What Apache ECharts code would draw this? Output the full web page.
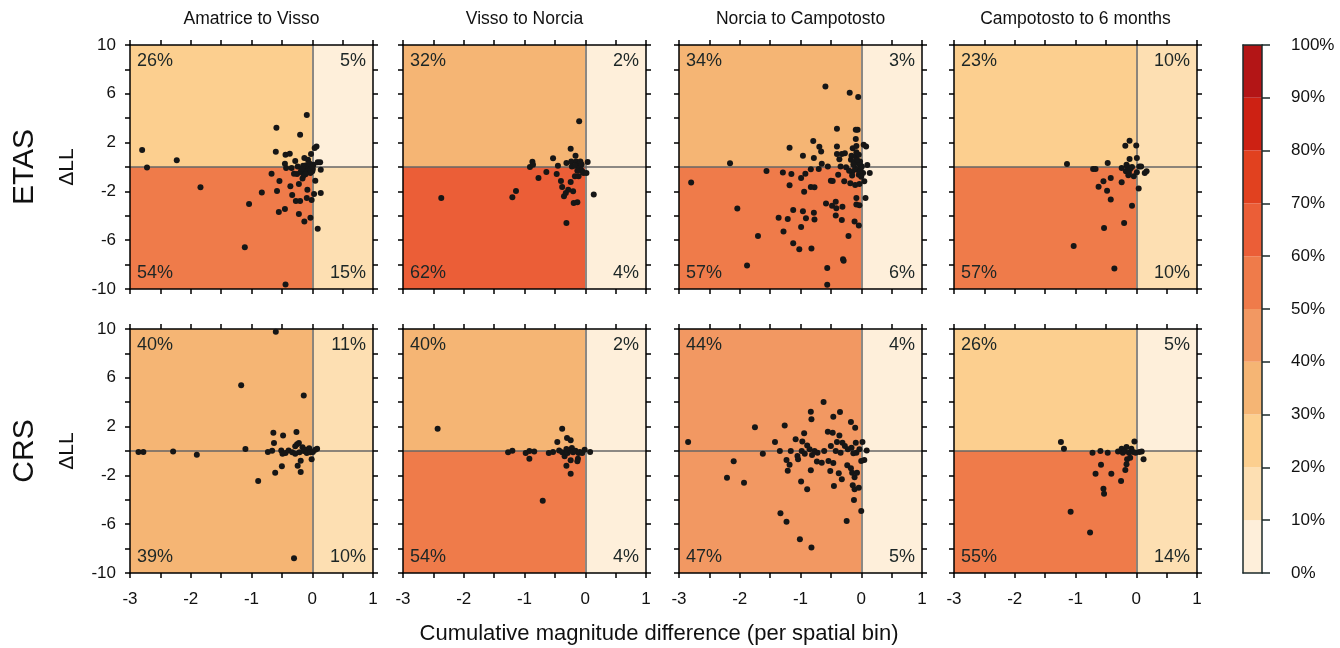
<!DOCTYPE html>
<html>
<head>
<meta charset="utf-8">
<script src="https://cdn.jsdelivr.net/npm/echarts@6/dist/echarts.min.js"></script>
<style>
html, body { margin: 0; padding: 0; background: #fff; }
#main { width: 1340px; height: 648px; }
</style>
</head>
<body>
<div id="main"></div>
<script>
var periods = ['Amatrice to Visso', 'Visso to Norcia', 'Norcia to Campotosto', 'Campotosto to 6 months'];
var models = ['ETAS', 'CRS'];
var xLimits = [-3, 1];
var yLimits = [-10, 10];
var binEdges = [0, 10, 20, 30, 40, 50, 60, 70, 80, 90, 100];
var binColors = ['#feefda', '#fddfb2', '#fccf8f', '#f5b574', '#f29862', '#ef7b4a', '#eb5e37', '#e1411f', '#cd2113', '#b31516'];

// share of bins in each quadrant (%): upper-left, upper-right, lower-left, lower-right
var etasShares = [[26, 5, 54, 15], [32, 2, 62, 4], [34, 3, 57, 6], [23, 10.2, 57, 10.4]];
var crsShares = [[39.6, 10.8, 39, 10.4], [39.7, 2, 54, 4], [44, 4, 47, 5], [26, 5, 55, 14]];

// [cumulative magnitude difference, delta LL] per spatial bin
var etasAmVi = [[-2.80,1.39],[-2.72,-0.05],[-2.23,0.55],[-1.84,-1.66],[-1.11,-6.58],[-1.04,-3.03],[-0.83,-2.10],[-0.67,-0.55],[-0.60,1.26],[-0.59,3.22],[-0.54,-1.15],[-0.58,-1.96],[-0.55,-3.68],[-0.45,-3.44],[-0.45,0.27],[-0.44,1.0],[-0.37,1.09],[-0.43,-0.08],[-0.36,-1.58],[-0.33,-2.29],[-0.34,-0.08],[-0.28,0.49],[-0.27,-2.78],[-0.25,-0.57],[-0.24,0.05],[-0.22,-1.39],[-0.20,2.65],[-0.20,-2.78],[-0.22,-3.85],[-0.19,-0.41],[-0.16,-0.95],[-0.14,-0.68],[-0.13,-4.47],[-0.13,0.74],[-0.09,4.26],[-0.08,-1.86],[-0.09,-2.54],[-0.07,0.60],[-0.07,-0.22],[-0.04,0.05],[-0.03,-4.17],[-0.02,1.06],[-0.01,-2.70],[0,-0.35],[0.01,-0.16],[0.02,0.19],[0.03,-2.21],[0.04,1.56],[0.05,-1.12],[0.07,1.69],[0.09,0.38],[0.09,-5.07],[0.13,0.38],[0.14,-2.13],[0.14,-0.22],[-0.44,-9.63],[-0.12,-0.3],[-0.06,-0.1],[-0.1,0.15],[-0.03,-0.5],[-0.15,0.1],[-0.05,0.3],[-0.18,-0.15],[0.0,0.05],[-0.3,-0.55],[-0.11,-0.6]];
var etasViNo = [[-2.37,-2.54],[-1.20,-2.48],[-1.14,-1.96],[-0.91,0],[-0.87,0.44],[-0.86,0.19],[-0.77,-0.90],[-0.64,-0.41],[-0.53,0.71],[-0.47,-0.57],[-0.45,0.11],[-0.40,-1.15],[-0.38,-1.64],[-0.35,-2.40],[-0.32,-2.13],[-0.31,-4.58],[-0.31,0.33],[-0.28,-1.86],[-0.24,1.50],[-0.24,-1.23],[-0.23,0.46],[-0.20,-1.99],[-0.19,-2.95],[-0.17,-0.76],[-0.16,0.93],[-0.15,0.46],[-0.13,-2.89],[-0.12,0.19],[-0.11,-0.76],[-0.10,3.74],[-0.09,0.05],[-0.08,0.46],[-0.07,-0.22],[-0.05,-0.35],[-0.03,-0.49],[0.02,-0.49],[0.04,0.41],[0.14,-2.26],[-0.22,0.05],[-0.17,0.11],[-0.1,-0.1],[-0.06,0.2],[-0.13,-0.3]];
var etasNoCa = [[-2.80,-1.28],[-2.16,0.30],[-2.04,-3.41],[-1.88,-8.08],[-1.70,-5.65],[-1.56,-0.33],[-1.36,-4.17],[-1.29,-0.46],[-1.28,-5.29],[-1.21,-4.26],[-1.18,1.58],[-1.18,-1.50],[-1.15,-0.57],[-1.12,-3.52],[-1.12,-6.25],[-1.02,-6.74],[-0.99,-0.90],[-0.99,-4.91],[-0.96,0.93],[-0.96,-3.63],[-0.94,-2.02],[-0.92,-0.55],[-0.91,-4.20],[-0.83,-0.19],[-0.83,-1.64],[-0.82,-6.68],[-0.79,2.13],[-0.78,0.74],[-0.78,-3.74],[-0.77,-4.31],[-0.77,-1.66],[-0.70,-0.16],[-0.69,1.66],[-0.66,1.28],[-0.65,0.27],[-0.59,6.60],[-0.58,-3.00],[-0.56,-8.27],[-0.56,-9.66],[-0.55,0.05],[-0.50,-1.12],[-0.48,-3.17],[-0.47,-1.15],[-0.42,-2.84],[-0.41,-3.38],[-0.42,-3.98],[-0.40,3.14],[-0.40,1.69],[-0.40,1.06],[-0.38,-0.63],[-0.36,0.63],[-0.34,0.05],[-0.32,1.06],[-0.32,-4.34],[-0.31,-3.25],[-0.30,-7.56],[-0.29,-7.69],[-0.28,-1.17],[-0.27,1.12],[-0.25,-0.03],[-0.21,-5.65],[-0.19,6.08],[-0.18,-1.34],[-0.17,0.60],[-0.16,0.93],[-0.15,-0.41],[-0.14,1.53],[-0.12,0.38],[-0.11,-4.47],[-0.10,-1.47],[-0.09,2.29],[-0.08,1.72],[-0.08,-2.54],[-0.08,-3.08],[-0.07,-0.22],[-0.06,3.06],[-0.05,5.73],[-0.04,-4.80],[-0.04,-0.63],[-0.03,-1.39],[-0.03,-3.14],[-0.02,0.19],[-0.02,0.46],[-0.01,-0.22],[0.01,0.05],[0.03,-0.49],[0.04,1.83],[0.05,-1.17],[0.07,-2.54],[0.08,1.69],[0.10,0.16],[0.14,-0.49],[-0.09,0.87],[-0.09,3.06],[-0.05,0.3],[-0.1,-0.1],[-0.02,-0.4],[-0.07,0.6],[-0.13,0.2],[-0.2,-0.3],[-0.04,1.0],[0.0,-0.8],[-0.15,-0.7],[-0.08,1.2]];
var etasCa6 = [[-1.14,0.25],[-1.03,-6.47],[-0.71,-0.16],[-0.67,-0.16],[-0.62,-1.61],[-0.54,-1.17],[-0.53,-4.99],[-0.48,-1.94],[-0.47,0.33],[-0.42,-2.67],[-0.42,-0.90],[-0.36,-8.32],[-0.24,-1.26],[-0.24,-0.08],[-0.20,-4.58],[-0.18,1.75],[-0.17,-0.35],[-0.15,0.05],[-0.13,-0.68],[-0.11,2.16],[-0.11,0.65],[-0.10,-0.16],[-0.07,-3.17],[-0.04,-0.76],[0,1.77],[0.01,0.74],[0.01,-0.44],[0.04,-1.77],[0.05,0.05],[0.08,0.05],[0.14,-0.49],[0.17,-0.35],[-0.16,0.19],[-0.12,-0.49],[-0.07,0]];
var crsAmVi = [[-2.86,-0.08],[-2.78,-0.08],[-2.29,-0.05],[-1.90,-0.30],[-1.17,5.38],[-1.10,0.16],[-0.89,-2.46],[-0.73,-0.08],[-0.66,0.03],[-0.64,1.50],[-0.63,0.66],[-0.61,-1.78],[-0.60,9.78],[-0.51,0.05],[-0.50,-1.26],[-0.49,-0.22],[-0.48,1.28],[-0.44,-0.16],[-0.39,0.05],[-0.33,-0.11],[-0.30,-8.80],[-0.28,0.38],[-0.28,-0.22],[-0.26,1.56],[-0.25,0.55],[-0.24,-1.20],[-0.22,0.66],[-0.21,-0.11],[-0.19,-0.79],[-0.19,-1.72],[-0.16,0.30],[-0.14,4.54],[-0.14,0],[-0.11,0.11],[-0.09,-0.16],[-0.05,0.22],[-0.03,-0.11],[-0.01,-0.68],[0.01,-0.08],[0.05,0.11],[0.08,0.19]];
var crsViNo = [[-2.43,1.83],[-1.27,-0.11],[-1.20,0.03],[-0.98,-0.16],[-0.92,-0.63],[-0.92,0],[-0.84,-0.05],[-0.70,-4.07],[-0.60,-0.16],[-0.53,-0.08],[-0.46,0.74],[-0.43,0.05],[-0.38,1.83],[-0.38,-0.11],[-0.34,-0.44],[-0.31,-1.20],[-0.30,1.07],[-0.29,-0.16],[-0.25,0.05],[-0.24,-0.76],[-0.24,0.88],[-0.24,-1.86],[-0.22,0.25],[-0.20,-0.11],[-0.16,0.03],[-0.13,-0.85],[-0.11,-0.16],[-0.09,-0.08],[-0.05,-0.16],[-0.01,0.11],[0.08,-0.08],[-0.12,-0.63],[-0.31,0.16]];
var crsNoCa = [[-2.85,0.74],[-2.21,-2.19],[-2.10,-0.85],[-1.93,-2.60],[-1.75,1.94],[-1.62,-0.22],[-1.42,0.74],[-1.34,0],[-1.33,-5.11],[-1.26,2.10],[-1.23,-0.74],[-1.23,-5.79],[-1.21,-1.61],[-1.18,-1.12],[-1.16,0],[-1.08,0.96],[-1.05,-0.41],[-1.04,-0.68],[-1.01,-7.24],[-0.99,-2.51],[-0.98,0],[-0.97,0.77],[-0.94,1.45],[-0.93,-0.22],[-0.89,-3.14],[-0.89,0.46],[-0.85,0.14],[-0.83,-1.58],[-0.83,3.22],[-0.82,2.60],[-0.82,-7.92],[-0.81,-0.33],[-0.77,0],[-0.73,-0.87],[-0.72,-0.14],[-0.65,-0.96],[-0.62,4.02],[-0.61,0],[-0.55,1.58],[-0.54,-0.82],[-0.51,-1.64],[-0.50,0.41],[-0.47,1.50],[-0.46,-0.98],[-0.46,2.81],[-0.45,-2.87],[-0.42,0],[-0.40,0.74],[-0.37,-1.83],[-0.36,1.28],[-0.35,3.20],[-0.34,-0.14],[-0.32,-2.32],[-0.31,0.68],[-0.27,0.41],[-0.24,-5.74],[-0.23,-1.17],[-0.22,0.14],[-0.17,2.38],[-0.17,-1.42],[-0.15,-1.78],[-0.14,-2.81],[-0.12,-4.02],[-0.11,-3.14],[-0.11,-2.16],[-0.10,1.91],[-0.09,0.68],[-0.08,-0.14],[-0.07,-1.78],[-0.04,-3.01],[-0.03,0.14],[0,-4.92],[0,-0.82],[0.02,0.74],[0.05,-0.74],[0.09,0.05],[-0.16,0.27],[-0.13,-0.19]];
var crsCa6 = [[-1.24,0.74],[-1.19,0.19],[-1.08,-4.97],[-0.76,-6.69],[-0.72,-0.14],[-0.67,-1.86],[-0.59,0],[-0.58,-1.12],[-0.54,-3.09],[-0.53,-3.50],[-0.47,-0.14],[-0.41,-1.86],[-0.30,-0.05],[-0.25,-2.46],[-0.24,0.19],[-0.22,-0.14],[-0.19,0],[-0.18,-1.56],[-0.16,0.33],[-0.16,-1.09],[-0.15,-0.68],[-0.12,-0.14],[-0.10,-0.55],[-0.08,0.19],[-0.05,-0.08],[-0.03,0.77],[-0.01,-0.14],[0.05,-0.08],[0.09,-0.05],[0.12,-0.68]];

var panelData = [etasAmVi, etasViNo, etasNoCa, etasCa6, crsAmVi, crsViNo, crsNoCa, crsCa6];
var panelShares = etasShares.concat(crsShares);

var gridLeft = [130, 403, 679, 954];
var gridTop = [45, 329];
var gridW = 243, gridH = 244;
var fontFamily = '"Liberation Sans", Arial, Helvetica, sans-serif';

function shareColor(v) {
	return binColors[Math.min(binColors.length - 1, Math.floor(v / 10))];
}

var grids = [], xAxes = [], yAxes = [], series = [], graphics = [];
var frame = { show: true, onZero: false, lineStyle: { color: '#000', width: 1.5 } };
var tick = { show: true, length: 5, lineStyle: { color: '#000', width: 1.5 } };

for (var i = 0; i < 8; i++) {
	var row = Math.floor(i / 4), col = i % 4;
	grids.push({ left: gridLeft[col], top: gridTop[row], width: gridW, height: gridH });
	var xBase = {
		gridIndex: i, type: 'value', min: xLimits[0], max: xLimits[1], interval: 0.5, z: 3,
		axisLine: frame, axisTick: tick, splitLine: { show: false }
	};
	xAxes.push(Object.assign({}, xBase, {
		position: 'bottom',
		axisLabel: {
			show: row === 1, fontSize: 17, color: '#111', margin: 18,
			formatter: function (v) { return Number.isInteger(v) ? v : ''; }
		}
	}));
	xAxes.push(Object.assign({}, xBase, { position: 'top', axisLabel: { show: false } }));
	var yBase = {
		gridIndex: i, type: 'value', min: yLimits[0], max: yLimits[1], interval: 2, z: 3,
		axisLine: frame, axisTick: tick, splitLine: { show: false }
	};
	yAxes.push(Object.assign({}, yBase, {
		position: 'left',
		name: col === 0 ? 'ΔLL' : '',
		nameLocation: 'middle', nameRotate: 90, nameGap: 52,
		nameTextStyle: { fontSize: 21, color: '#111', fontFamily: fontFamily },
		axisLabel: {
			show: col === 0, fontSize: 17, color: '#111', margin: 14,
			formatter: function (v) { return (v + 10) % 4 === 0 ? v : ''; }
		}
	}));
	yAxes.push(Object.assign({}, yBase, { position: 'right', axisLabel: { show: false } }));

	var s = panelShares[i];
	var quad = function (k, x0, y0, x1, y1, pos) {
		return [
			{ name: Math.round(s[k]) + '%', xAxis: x0, yAxis: y0, itemStyle: { color: shareColor(s[k]) }, label: { position: pos } },
			{ xAxis: x1, yAxis: y1 }
		];
	};
	series.push({
		type: 'scatter',
		xAxisIndex: 2 * i, yAxisIndex: 2 * i,
		data: panelData[i],
		symbolSize: 6,
		itemStyle: { color: '#161616', opacity: 1 },
		z: 4,
		silent: true,
		markArea: {
			silent: true, z: 1,
			label: { show: true, fontSize: 18, color: '#1c2626', distance: 7, fontFamily: fontFamily },
			data: [
				quad(0, xLimits[0], 0, 0, yLimits[1], 'insideTopLeft'),
				quad(1, 0, 0, xLimits[1], yLimits[1], 'insideTopRight'),
				quad(2, xLimits[0], yLimits[0], 0, 0, 'insideBottomLeft'),
				quad(3, 0, yLimits[0], xLimits[1], 0, 'insideBottomRight')
			]
		},
		markLine: {
			silent: true, z: 2, symbol: 'none', animation: false,
			label: { show: false },
			lineStyle: { color: '#666', width: 1.5, type: 'solid' },
			data: [{ xAxis: 0 }, { yAxis: 0 }]
		}
	});
}

// colour bar
var cbFrame = { show: true, onZero: false, lineStyle: { color: '#1b2a2a', width: 1.5 } };
grids.push({ left: 1243, top: 45, width: 19, height: 528 });
xAxes.push({ gridIndex: 8, type: 'category', data: [''], position: 'bottom', z: 3, axisLine: cbFrame, axisTick: { show: false }, axisLabel: { show: false } });
xAxes.push({ gridIndex: 8, type: 'category', data: [''], position: 'top', z: 3, axisLine: cbFrame, axisTick: { show: false }, axisLabel: { show: false } });
yAxes.push({ gridIndex: 8, type: 'value', min: 0, max: 100, interval: 10, position: 'left', z: 3, axisLine: cbFrame, axisTick: { show: false }, axisLabel: { show: false }, splitLine: { show: false } });
yAxes.push({
	gridIndex: 8, type: 'value', min: 0, max: 100, interval: 10, position: 'right', z: 3,
	axisLine: cbFrame, axisTick: { show: true, length: 8, lineStyle: { color: '#1b2a2a', width: 1.5 } },
	axisLabel: { fontSize: 17, color: '#111', margin: 29, formatter: '{value}%' },
	splitLine: { show: false }
});
for (var k = 0; k < binColors.length; k++) {
	series.push({
		type: 'bar', xAxisIndex: 16, yAxisIndex: 17, stack: 'cb', barWidth: '100%', silent: true,
		data: [binEdges[k + 1] - binEdges[k]],
		itemStyle: { color: binColors[k] }
	});
}

// titles and labels
for (var c = 0; c < 4; c++) {
	graphics.push({
		type: 'text', x: gridLeft[c] + gridW / 2, y: 19,
		style: { text: periods[c], fontSize: 17.5, fontFamily: fontFamily, fill: '#111', align: 'center', verticalAlign: 'middle', textAlign: 'center', textVerticalAlign: 'middle' }
	});
}
for (var r = 0; r < 2; r++) {
	graphics.push({
		type: 'text', x: 25, y: gridTop[r] + gridH / 2, rotation: Math.PI / 2,
		style: { text: models[r], fontSize: 30, fontFamily: fontFamily, fill: '#111', align: 'center', verticalAlign: 'middle', textAlign: 'center', textVerticalAlign: 'middle' }
	});
}
graphics.push({
	type: 'text', x: 659, y: 634,
	style: { text: 'Cumulative magnitude difference (per spatial bin)', fontSize: 22, fontFamily: fontFamily, fill: '#111', align: 'center', verticalAlign: 'middle', textAlign: 'center', textVerticalAlign: 'middle' }
});

var chart = echarts.init(document.getElementById('main'));
chart.setOption({
	backgroundColor: '#ffffff',
	animation: false,
	textStyle: { fontFamily: fontFamily },
	grid: grids,
	xAxis: xAxes,
	yAxis: yAxes,
	series: series,
	graphic: graphics
});
</script>
</body>
</html>
